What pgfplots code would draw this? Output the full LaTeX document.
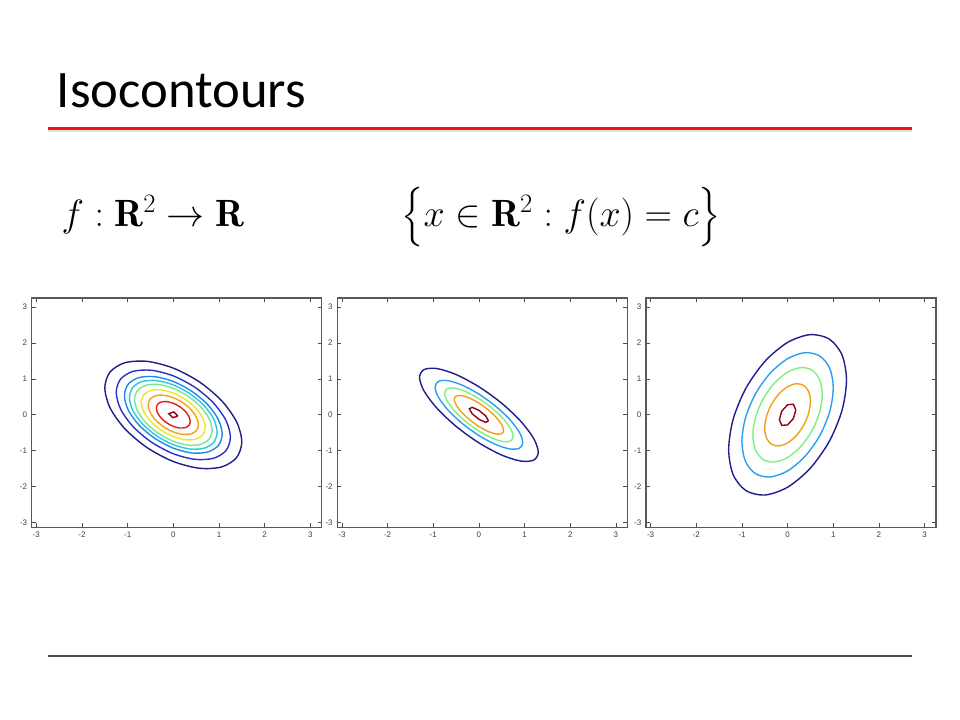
\RequirePackage{fix-cm}
\documentclass[border=0pt]{standalone}
\usepackage{exscale}
\usepackage{fontspec}
\usepackage{pgfplots}
\pgfplotsset{compat=1.18}
\newfontfamily\calibri{Carlito}
\newfontfamily\helv{Liberation Sans}
\definecolor{jA}{RGB}{30,30,140}
\definecolor{jB}{RGB}{40,50,200}
\definecolor{jC}{RGB}{30,140,230}
\definecolor{jD}{RGB}{40,200,230}
\definecolor{jE}{RGB}{120,230,150}
\definecolor{jF}{RGB}{240,230,40}
\definecolor{jG}{RGB}{245,160,20}
\definecolor{jH}{RGB}{225,30,30}
\definecolor{jI}{RGB}{150,0,20}
\definecolor{kC}{RGB}{40,160,240}
\definecolor{kE}{RGB}{128,240,128}
\definecolor{slidered}{RGB}{240,20,20}
\pgfplotsset{
  contax/.style={
    scale only axis, width=217.5pt, height=172pt, anchor=south west,
    xmin=-3.1, xmax=3.25, ymin=-3.13, ymax=3.25,
    xtick={-3,-2,-1,0,1,2,3}, ytick={-3,-2,-1,0,1,2,3},
    tick align=inside, xtick pos=both, ytick pos=both,
    xticklabel pos=lower, yticklabel pos=left,
    major tick length=3pt,
    axis line style={black!65, line width=0.9pt},
    tick style={black!70, line width=0.5pt},
    ticklabel style={font=\helv\fontsize{6}{7}\selectfont, text=black!75},
    /pgf/number format/assume math mode=true,
  },
  ring/.style={smooth cycle, line width=1.05pt, mark=none},
  poly/.style={sharp plot, line width=1.05pt, mark=none},
}
\begin{document}
\begin{tikzpicture}
\fill[white] (0,0) rectangle (720pt,540pt);
\useasboundingbox (0,0) rectangle (720pt,540pt);
% title and rules
\node[anchor=base west, inner sep=0, font=\calibri\fontsize{39.5}{47}\selectfont] at (42.5pt,459pt) {Isocontours};
\draw[gray!25, line width=1pt] (36pt,441.8pt) -- (684pt,441.8pt);
\draw[slidered, line width=2.6pt] (36pt,443.8pt) -- (684pt,443.8pt);
\draw[black!70, line width=1.1pt] (36pt,48pt) -- (684pt,48pt);
% formulas
\node[anchor=base west, inner sep=0, font=\fontsize{28.5}{34}\selectfont] at (46pt,370pt) {$f:\mathbf{R}^2\rightarrow\mathbf{R}$};
\node[anchor=base west, inner sep=0, font=\fontsize{28.5}{34}\selectfont] at (301pt,370pt) {$\big\{x\in\mathbf{R}^2:f(x)=c\big\}$};

% ---------- plot 1 ----------
\begin{axis}[contax, at={(23.8pt,144.5pt)}]
\addplot[ring, jA] coordinates {(1.5,-0.75)(1.386,-0.196)(1.061,0.388)(0.574,0.913)(0,1.299)(-0.574,1.487)(-1.061,1.449)(-1.386,1.19)(-1.5,0.75)(-1.386,0.196)(-1.061,-0.388)(-0.574,-0.913)(0,-1.299)(0.574,-1.487)(1.061,-1.449)(1.386,-1.19)};
\addplot[ring, jB] coordinates {(1.25,-0.625)(1.155,-0.163)(0.884,0.324)(0.478,0.761)(0,1.083)(-0.478,1.239)(-0.884,1.208)(-1.155,0.992)(-1.25,0.625)(-1.155,0.163)(-0.884,-0.324)(-0.478,-0.761)(0,-1.083)(0.478,-1.239)(0.884,-1.208)(1.155,-0.992)};
\addplot[ring, jC] coordinates {(1.07,-0.535)(0.989,-0.14)(0.757,0.277)(0.409,0.651)(0,0.927)(-0.409,1.061)(-0.757,1.034)(-0.989,0.849)(-1.07,0.535)(-0.989,0.14)(-0.757,-0.277)(-0.409,-0.651)(0,-0.927)(0.409,-1.061)(0.757,-1.034)(0.989,-0.849)};
\addplot[ring, jD] coordinates {(0.96,-0.48)(0.887,-0.125)(0.679,0.248)(0.367,0.584)(0,0.831)(-0.367,0.952)(-0.679,0.927)(-0.887,0.762)(-0.96,0.48)(-0.887,0.125)(-0.679,-0.248)(-0.367,-0.584)(0,-0.831)(0.367,-0.952)(0.679,-0.927)(0.887,-0.762)};
\addplot[ring, jE] coordinates {(0.85,-0.425)(0.785,-0.111)(0.601,0.22)(0.325,0.517)(0,0.736)(-0.325,0.843)(-0.601,0.821)(-0.785,0.674)(-0.85,0.425)(-0.785,0.111)(-0.601,-0.22)(-0.325,-0.517)(0,-0.736)(0.325,-0.843)(0.601,-0.821)(0.785,-0.674)};
\addplot[ring, jF] coordinates {(0.7,-0.35)(0.647,-0.091)(0.495,0.181)(0.268,0.426)(0,0.606)(-0.268,0.694)(-0.495,0.676)(-0.647,0.555)(-0.7,0.35)(-0.647,0.091)(-0.495,-0.181)(-0.268,-0.426)(0,-0.606)(0.268,-0.694)(0.495,-0.676)(0.647,-0.555)};
\addplot[ring, jG] coordinates {(0.55,-0.275)(0.508,-0.072)(0.389,0.142)(0.21,0.335)(0,0.476)(-0.21,0.545)(-0.389,0.531)(-0.508,0.436)(-0.55,0.275)(-0.508,0.072)(-0.389,-0.142)(-0.21,-0.335)(0,-0.476)(0.21,-0.545)(0.389,-0.531)(0.508,-0.436)};
\addplot[ring, jH] coordinates {(0.37,-0.185)(0.342,-0.048)(0.262,0.096)(0.142,0.225)(0,0.32)(-0.142,0.367)(-0.262,0.357)(-0.342,0.294)(-0.37,0.185)(-0.342,0.048)(-0.262,-0.096)(-0.142,-0.225)(0,-0.32)(0.142,-0.367)(0.262,-0.357)(0.342,-0.294)};
\addplot[poly, jI] coordinates {(0.1,-0.03)(0.01,0.08)(-0.1,0.03)(-0.01,-0.08)(0.1,-0.03)};
\end{axis}

% ---------- plot 2 ----------
\begin{axis}[contax, at={(253pt,144.5pt)}]
\addplot[ring, jA] coordinates {(1.3,-1.04)(1.201,-0.662)(0.919,-0.184)(0.498,0.323)(0,0.78)(-0.498,1.119)(-0.919,1.287)(-1.201,1.259)(-1.3,1.04)(-1.201,0.662)(-0.919,0.184)(-0.498,-0.323)(0,-0.78)(0.498,-1.119)(0.919,-1.287)(1.201,-1.259)};
\addplot[ring, kC] coordinates {(0.96,-0.768)(0.887,-0.489)(0.679,-0.136)(0.367,0.238)(0,0.576)(-0.367,0.826)(-0.679,0.95)(-0.887,0.93)(-0.96,0.768)(-0.887,0.489)(-0.679,0.136)(-0.367,-0.238)(0,-0.576)(0.367,-0.826)(0.679,-0.95)(0.887,-0.93)};
\addplot[ring, kE] coordinates {(0.75,-0.6)(0.693,-0.382)(0.53,-0.106)(0.287,0.186)(0,0.45)(-0.287,0.645)(-0.53,0.743)(-0.693,0.727)(-0.75,0.6)(-0.693,0.382)(-0.53,0.106)(-0.287,-0.186)(0,-0.45)(0.287,-0.645)(0.53,-0.743)(0.693,-0.727)};
\addplot[ring, jG] coordinates {(0.54,-0.432)(0.499,-0.275)(0.382,-0.076)(0.207,0.134)(0,0.324)(-0.207,0.465)(-0.382,0.535)(-0.499,0.523)(-0.54,0.432)(-0.499,0.275)(-0.382,0.076)(-0.207,-0.134)(0,-0.324)(0.207,-0.465)(0.382,-0.535)(0.499,-0.523)};
\addplot[poly, jI] coordinates {(0.21,-0.168)(0.148,-0.03)(0,0.126)(-0.148,0.208)(-0.21,0.168)(-0.148,0.03)(0,-0.126)(0.148,-0.208)(0.21,-0.168)};
\end{axis}

% ---------- plot 3 ----------
\begin{axis}[contax, at={(484.5pt,144.5pt)}]
\addplot[ring, jA] coordinates {(1.29,0.968)(1.192,1.665)(0.912,2.108)(0.494,2.231)(0,2.014)(-0.494,1.49)(-0.912,0.74)(-1.192,-0.123)(-1.29,-0.968)(-1.192,-1.665)(-0.912,-2.108)(-0.494,-2.231)(0,-2.014)(0.494,-1.49)(0.912,-0.74)(1.192,0.123)};
\addplot[ring, kC] coordinates {(1,0.75)(0.924,1.29)(0.707,1.634)(0.383,1.729)(0,1.561)(-0.383,1.155)(-0.707,0.574)(-0.924,-0.095)(-1,-0.75)(-0.924,-1.29)(-0.707,-1.634)(-0.383,-1.729)(0,-1.561)(0.383,-1.155)(0.707,-0.574)(0.924,0.095)};
\addplot[ring, kE] coordinates {(0.76,0.57)(0.702,0.981)(0.537,1.242)(0.291,1.314)(0,1.187)(-0.291,0.878)(-0.537,0.436)(-0.702,-0.073)(-0.76,-0.57)(-0.702,-0.981)(-0.537,-1.242)(-0.291,-1.314)(0,-1.187)(0.291,-0.878)(0.537,-0.436)(0.702,0.073)};
\addplot[ring, jG] coordinates {(0.5,0.375)(0.462,0.645)(0.354,0.817)(0.191,0.865)(0,0.781)(-0.191,0.578)(-0.354,0.287)(-0.462,-0.048)(-0.5,-0.375)(-0.462,-0.645)(-0.354,-0.817)(-0.191,-0.865)(0,-0.781)(0.191,-0.578)(0.354,-0.287)(0.462,0.048)};
\addplot[poly, jI] coordinates {(0.18,0.135)(0.127,0.294)(0,0.281)(-0.127,0.103)(-0.18,-0.135)(-0.127,-0.294)(0,-0.281)(0.127,-0.103)(0.18,0.135)};
\end{axis}
\end{tikzpicture}
\end{document}
